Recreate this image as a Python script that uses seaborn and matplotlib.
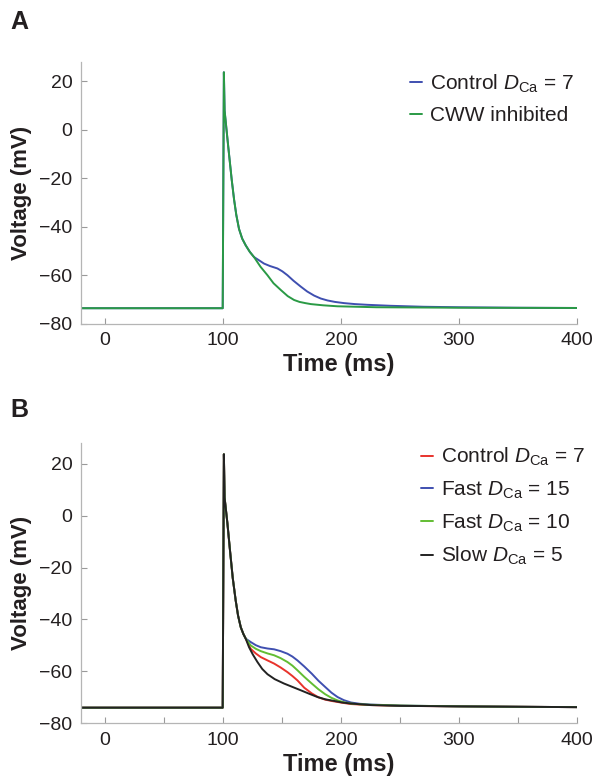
import pandas as pd
import seaborn as sns
import matplotlib.pyplot as plt
from matplotlib.ticker import MultipleLocator

# --- data (time in ms, voltage in mV) ---
# panel A: shared upstroke / early repolarisation
t_a_early = [-20, 100, 101.0, 101.6, 104.5, 107.6, 109.6, 111.5, 113.8, 116.5, 119.5, 123.0, 126.5]
v_a_early = [-73.5, -73.5, 23.8, 8.0, -6.0, -20.4, -28.6, -35.0, -40.8, -44.8, -47.6, -50.3, -52.4]

t_a_ctrl = [130, 135, 140, 146.3, 150.5, 154.8, 160, 166.1, 171.5, 177.4, 183, 188.7, 195,
            202.8, 212, 222.6, 242, 270, 300, 350, 400]
v_a_ctrl = [-53.5, -55.1, -56.1, -57.1, -58.3, -59.9, -62.2, -64.6, -66.6, -68.3, -69.5, -70.3,
            -70.9, -71.4, -71.8, -72.1, -72.5, -72.9, -73.1, -73.3, -73.4]
t_a_cww = [132, 137.9, 143, 149.2, 155, 160.4, 165, 170, 174.6, 185, 197, 230, 300, 400]
v_a_cww = [-56.4, -59.9, -63.2, -66.0, -68.5, -70.1, -70.9, -71.4, -71.8, -72.3, -72.7, -73.1,
           -73.3, -73.4]

# panel B: shared upstroke / early repolarisation
t_b_early = [-20, 100, 101.0, 101.6, 104.0, 106.2, 108.5, 111.0, 113.0, 115.3, 117.5, 119.5]
v_b_early = [-74.0, -74.0, 23.7, 7.0, -3.0, -13.5, -24.0, -32.7, -38.5, -43.0, -45.6, -47.4]

t_b_late = [123.7, 128, 132.2, 138, 143.5, 149, 154.8, 159, 163.3, 169, 175.4, 181, 186.7,
            192, 197.2, 202.5, 208.5, 216, 225.4, 250.8, 300, 400]
v_b_ctrl = [-51.3, -53.1, -54.5, -55.8, -57.0, -58.5, -60.3, -61.8, -63.5, -66.3, -68.5, -70.0,
            -70.9, -71.4, -71.8, -72.2, -72.6, -72.8, -73.0, -73.3, -73.5, -73.8]
v_b_fast15 = [-48.7, -49.9, -50.7, -51.2, -51.5, -52.2, -53.2, -54.3, -55.8, -58.1, -60.9, -63.6,
              -66.0, -68.2, -69.9, -71.1, -72.0, -72.5, -72.8, -73.2, -73.5, -73.8]
v_b_fast10 = [-50.0, -51.3, -52.2, -53.1, -53.8, -54.9, -56.4, -57.8, -59.6, -62.1, -64.7, -66.9,
              -68.8, -70.2, -71.2, -71.9, -72.4, -72.7, -72.9, -73.2, -73.5, -73.8]
t_b_slow = [122.3, 125.5, 129.4, 133.5, 137.9, 144, 151.9, 159, 166.1, 173, 180.2, 187, 194.3,
            201, 208.5, 225.4, 250.8, 300, 400]
v_b_slow = [-50.7, -53.5, -56.4, -59.1, -61.1, -63.0, -64.7, -66.0, -67.3, -68.6, -69.9, -70.8,
            -71.4, -72.0, -72.4, -73.0, -73.3, -73.5, -73.8]

lab_a = ['Control $D_{\\mathrm{Ca}}$ = 7', 'CWW inhibited']
lab_b = ['Control $D_{\\mathrm{Ca}}$ = 7', 'Fast $D_{\\mathrm{Ca}}$ = 15',
         'Fast $D_{\\mathrm{Ca}}$ = 10', 'Slow $D_{\\mathrm{Ca}}$ = 5']
col_a = ['#3f4fb0', '#2a9a45']
col_b = ['#e8332c', '#3f4fb0', '#62bd33', '#222222']

x_ticks = [0, 100, 200, 300, 400]
y_ticks = [-80, -60, -40, -20, 0, 20]


def long_df(series, labels):
    parts = []
    for (t, v), lab in zip(series, labels):
        parts.append(pd.DataFrame({'t': t, 'v': v, 'trace': lab}))
    return pd.concat(parts, ignore_index=True)


df_a = long_df([(t_a_early + t_a_ctrl, v_a_early + v_a_ctrl),
                (t_a_early + t_a_cww, v_a_early + v_a_cww)], lab_a)
df_b = long_df([(t_b_early + t_b_late, v_b_early + v_b_ctrl),
                (t_b_early + t_b_late, v_b_early + v_b_fast15),
                (t_b_early + t_b_late, v_b_early + v_b_fast10),
                (t_b_early + t_b_slow, v_b_early + v_b_slow)], lab_b)

sns.set_style('ticks')
plt.rcParams['font.family'] = ['Liberation Sans', 'DejaVu Sans']
plt.rcParams['mathtext.fontset'] = 'custom'
plt.rcParams['mathtext.rm'] = 'Liberation Sans'
plt.rcParams['mathtext.it'] = 'Liberation Sans:italic'
txt = '#231f20'

fig = plt.figure(figsize=(5.95, 7.76), dpi=100)
ax_a = fig.add_axes([0.136, 0.5825, 0.834, 0.3375])
ax_b = fig.add_axes([0.136, 0.068, 0.834, 0.361])

for ax, df, labs, cols, leg_xy in [(ax_a, df_a, lab_a, col_a, (0.663, 0.96)),
                                   (ax_b, df_b, lab_b, col_b, (0.685, 0.99))]:
    sns.lineplot(data=df, x='t', y='v', hue='trace', hue_order=labs,
                 palette=dict(zip(labs, cols)), sort=False, estimator=None,
                 linewidth=1.4, ax=ax)
    ax.set_xlim(-20, 400)
    ax.set_ylim(-80, 28)
    ax.set_xticks(x_ticks)
    ax.set_yticks(y_ticks)
    ax.tick_params(direction='in', length=4, width=0.8, color='#9a9a9a',
                   labelsize=14, labelcolor=txt, pad=6)
    for s in ['top', 'right']:
        ax.spines[s].set_visible(False)
    for s in ['left', 'bottom']:
        ax.spines[s].set_color('#b5b5b5')
        ax.spines[s].set_linewidth(0.9)
    ax.set_xlabel('Time (ms)', fontsize=17, fontweight='bold', color=txt, labelpad=3, x=0.52)
    ax.set_ylabel('Voltage (mV)', fontsize=16, fontweight='bold', color=txt, labelpad=5)
    ax.legend(loc='upper left', bbox_to_anchor=leg_xy, frameon=False, fontsize=15,
              handlelength=0.6, handletextpad=0.35, borderpad=0, borderaxespad=0,
              labelspacing=0.55, labelcolor=txt)

ax_b.xaxis.set_minor_locator(MultipleLocator(50))
ax_b.tick_params(which='minor', direction='in', length=4, width=0.8, color='#9a9a9a')

fig.text(0.017, 0.962, 'A', fontsize=18, fontweight='bold', color=txt)
fig.text(0.017, 0.463, 'B', fontsize=18, fontweight='bold', color=txt)

plt.savefig('out.png', dpi=100)
